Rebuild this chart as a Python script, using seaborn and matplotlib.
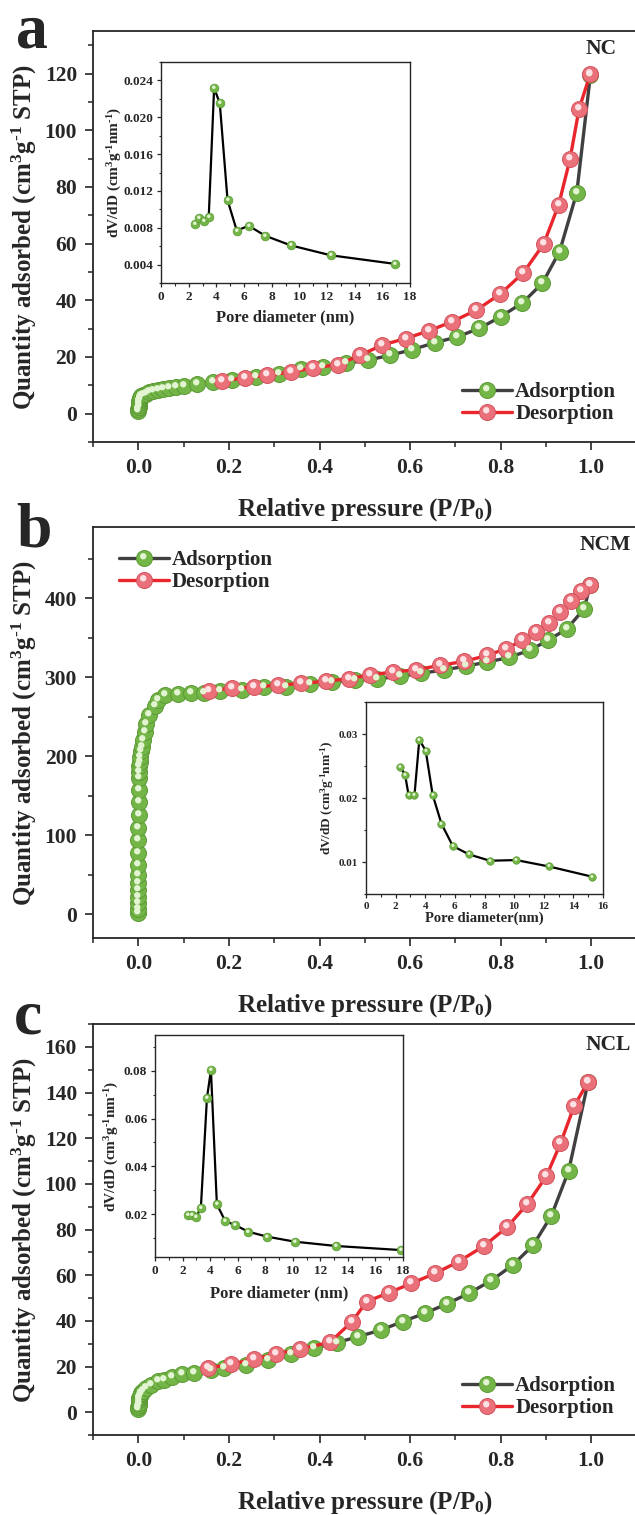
import seaborn as sns
import matplotlib.pyplot as plt
from matplotlib.lines import Line2D
from matplotlib.markers import MarkerStyle
from matplotlib.transforms import Affine2D
from matplotlib.legend_handler import HandlerTuple
from matplotlib.ticker import MultipleLocator, FixedLocator, FormatStrFormatter

# ---- isotherm data ----
nc_ads_p = [0.0001, 0.0003, 0.0006, 0.001, 0.0015, 0.0022, 0.003, 0.0045, 0.0065, 0.01,
            0.016, 0.024, 0.033, 0.043, 0.055, 0.068, 0.083, 0.1, 0.13, 0.165, 0.207,
            0.259, 0.31, 0.359, 0.407, 0.458, 0.507, 0.556, 0.605, 0.654, 0.704, 0.753,
            0.800, 0.848, 0.892, 0.930, 0.968, 0.998]
nc_ads_q = [1.0, 1.6, 2.3, 3.0, 3.7, 4.4, 5.0, 5.6, 6.1, 6.6, 7.1, 7.6, 8.0, 8.3, 8.7,
            9.1, 9.5, 9.9, 10.6, 11.2, 11.8, 13.0, 14.1, 15.6, 16.5, 17.7, 18.9, 20.6,
            22.6, 25.0, 27.1, 30.1, 34.2, 39.1, 46.0, 57.2, 78.0, 119.5]
nc_des_p = [0.998, 0.973, 0.953, 0.928, 0.895, 0.850, 0.799, 0.746, 0.692, 0.641, 0.590,
            0.538, 0.490, 0.440, 0.385, 0.336, 0.285, 0.235, 0.185]
nc_des_q = [120.0, 107.5, 89.8, 73.7, 59.9, 49.7, 42.2, 36.5, 32.4, 29.2, 26.5, 24.2,
            20.6, 17.3, 16.1, 14.7, 13.6, 12.6, 11.6]

ncm_ads_p = [0.00001, 0.00002, 0.00003, 0.00005, 0.00007, 0.0001, 0.00013, 0.00017,
             0.00022, 0.0003, 0.0004, 0.0005, 0.0007, 0.0009, 0.0012, 0.0016, 0.002,
             0.003, 0.004, 0.006, 0.008, 0.011, 0.014, 0.018, 0.023, 0.036, 0.043, 0.06,
             0.087, 0.116, 0.145, 0.18, 0.228, 0.278, 0.327, 0.379, 0.428, 0.479, 0.528,
             0.577, 0.625, 0.674, 0.723, 0.770, 0.818, 0.864, 0.904, 0.946, 0.984, 0.998]
ncm_ads_q = [1, 7, 14, 22, 31, 40, 50, 62, 77, 94, 109, 125, 142, 157, 172, 180, 187,
             193, 199, 206, 212, 220, 231, 241, 252, 264, 271, 277, 279, 280, 280, 282.5,
             284, 287, 288, 291, 294, 296, 298, 301, 305, 309, 314, 319, 325, 334, 346.5,
             361, 386.5, 417]
ncm_des_p = [0.998, 0.977, 0.955, 0.932, 0.906, 0.877, 0.848, 0.812, 0.770, 0.720, 0.667,
             0.614, 0.563, 0.512, 0.465, 0.415, 0.359, 0.308, 0.256, 0.207, 0.157]
ncm_des_q = [417, 409, 397, 382, 368, 357, 346.5, 336, 327.6, 320, 315, 309.5, 306.5,
             303, 298, 295, 292, 290, 287.6, 286, 283]

ncl_ads_p = [0.0001, 0.0003, 0.0006, 0.001, 0.0016, 0.0024, 0.0035, 0.005, 0.007, 0.01,
             0.016, 0.029, 0.043, 0.056, 0.074, 0.096, 0.123, 0.16, 0.19, 0.238, 0.287,
             0.336, 0.388, 0.439, 0.486, 0.536, 0.584, 0.632, 0.681, 0.730, 0.779, 0.827,
             0.872, 0.912, 0.950, 0.993]
ncl_ads_q = [1.2, 2.2, 3.2, 4.2, 5.2, 6.1, 7.0, 7.8, 8.6, 9.2, 10.5, 12.1, 13.6, 14.3,
             15.3, 16.5, 17.1, 18.3, 19.3, 20.7, 22.9, 25.4, 28.0, 30.5, 33.1, 36.0,
             39.7, 43.3, 47.4, 52.1, 57.6, 64.5, 73.2, 86.1, 105.7, 144.7]
ncl_des_p = [0.993, 0.962, 0.932, 0.901, 0.859, 0.814, 0.763, 0.707, 0.655, 0.603, 0.554,
             0.504, 0.472, 0.423, 0.356, 0.305, 0.256, 0.205, 0.154]
ncl_des_q = [144.7, 134.0, 117.7, 103.4, 91.2, 81.0, 72.8, 65.9, 60.8, 56.4, 52.4, 48.4,
             39.7, 30.6, 27.6, 25.5, 23.2, 21.0, 19.3]

# ---- pore size distributions (insets) ----
nc_pore_d = [2.49, 2.78, 3.09, 3.45, 3.84, 4.25, 4.81, 5.48, 6.33, 7.54, 9.37, 12.27, 16.93]
nc_pore_v = [0.00843, 0.00904, 0.00868, 0.00915, 0.0232, 0.0215, 0.0110, 0.00768,
             0.00822, 0.00713, 0.00609, 0.00501, 0.00407]
ncm_pore_d = [2.32, 2.64, 2.88, 3.27, 3.60, 4.03, 4.50, 5.09, 5.86, 6.94, 8.36, 10.14,
              12.36, 15.27]
ncm_pore_v = [0.0249, 0.0236, 0.0204, 0.0204, 0.0291, 0.0274, 0.0205, 0.0160, 0.0125,
              0.0112, 0.0102, 0.0103, 0.0093, 0.0077]
ncl_pore_d = [2.42, 2.71, 3.0, 3.33, 3.77, 4.06, 4.49, 5.10, 5.82, 6.76, 8.16, 10.17,
              13.16, 17.87]
ncl_pore_v = [0.0197, 0.0194, 0.0188, 0.0227, 0.0686, 0.0803, 0.0241, 0.0170, 0.0154,
              0.0126, 0.0105, 0.0084, 0.0066, 0.0049]

sns.set_style('ticks')
plt.rcParams['font.family'] = ['Liberation Serif', 'DejaVu Serif']
plt.rcParams['font.weight'] = 'bold'
plt.rcParams['axes.labelweight'] = 'bold'
plt.rcParams['mathtext.fontset'] = 'custom'
plt.rcParams['mathtext.rm'] = 'Liberation Serif:bold'
plt.rcParams['mathtext.it'] = 'Liberation Serif:bold'
plt.rcParams['mathtext.bf'] = 'Liberation Serif:bold'
plt.rcParams['mathtext.default'] = 'rm'

ADS_LINE = '#404040'
DES_LINE = '#e8262c'
GREEN, GREEN_EDGE, GREEN_HI = '#74b548', '#5b9a35', '#e2f4d2'
RED, RED_EDGE, RED_HI = '#ea707a', '#d4525d', '#fde2e5'
HI = MarkerStyle('o', transform=Affine2D().scale(0.4).translate(-0.08, 0.14))

YLAB = r'Quantity adsorbed (cm$^3$g$^{\text{-1}}$ STP)'
PSD_YLAB = r'dV/dD (cm$^3$g$^{\text{-1}}$nm$^{\text{-1}}$)'

W, H = 635, 1515
fig = plt.figure(figsize=(W / 100, H / 100), dpi=100)


def box(left, top, right, bottom):
    return [left / W, 1 - bottom / H, (right - left) / W, (bottom - top) / H]


def series(ax, x, y, line_c, face, edge, hi, ms, lw):
    sns.lineplot(x=x, y=y, ax=ax, sort=False, estimator=None, color=line_c, lw=lw,
                 marker='o', ms=ms, mfc=face, mec=edge, mew=0.7, legend=False)
    sns.scatterplot(x=x, y=y, ax=ax, marker=HI, s=ms ** 2, color=hi, linewidth=0,
                    legend=False, zorder=3)


def main_panel(top, ads, des, ylim, ymaj, ymin, tag, tag_xy, letter, letter_xy,
               leg_xy, ylab_y):
    ax = fig.add_axes(box(93, top, 93 + 543.6, top + 411))
    series(ax, ads[0], ads[1], ADS_LINE, GREEN, GREEN_EDGE, GREEN_HI, 11.5, 2.4)
    series(ax, des[0], des[1], DES_LINE, RED, RED_EDGE, RED_HI, 11.5, 2.4)
    ax.set_xlim(-0.1, 1.1)
    ax.set_ylim(*ylim)
    ax.xaxis.set_major_locator(FixedLocator([0, 0.2, 0.4, 0.6, 0.8, 1.0]))
    ax.xaxis.set_major_formatter(FormatStrFormatter('%.1f'))
    ax.xaxis.set_minor_locator(MultipleLocator(0.1))
    ax.yaxis.set_major_locator(MultipleLocator(ymaj))
    ax.yaxis.set_minor_locator(MultipleLocator(ymin))
    ax.tick_params(which='major', length=6, width=1.2, pad=5.5, labelsize=15.5)
    ax.tick_params(which='minor', length=3.5, width=1.1)
    for s in ax.spines.values():
        s.set_linewidth(1.3)
    ax.set_xlabel('Relative pressure (P/P$_0$)', fontsize=18)
    ax.xaxis.set_label_coords(0.5, -0.132)
    ax.set_ylabel(YLAB, fontsize=18)
    ax.yaxis.set_label_coords(-0.1, ylab_y)

    h_ads = (Line2D([], [], color=ADS_LINE, lw=2.4, marker='o', ms=11.5, mfc=GREEN,
                    mec=GREEN_EDGE, mew=0.7),
             Line2D([], [], ls='none', marker=HI, ms=11.5, mfc=GREEN_HI, mec='none'))
    h_des = (Line2D([], [], color=DES_LINE, lw=2.4, marker='o', ms=11.5, mfc=RED,
                    mec=RED_EDGE, mew=0.7),
             Line2D([], [], ls='none', marker=HI, ms=11.5, mfc=RED_HI, mec='none'))
    ax.legend([h_ads, h_des], ['Adsorption', 'Desorption'],
              handler_map={tuple: HandlerTuple(ndivide=1)}, loc='center left',
              bbox_to_anchor=(leg_xy[0] / W, 1 - leg_xy[1] / H),
              bbox_transform=fig.transFigure, frameon=False, borderpad=0,
              borderaxespad=0, handlelength=2.4, handletextpad=0.15,
              labelspacing=0.1, prop={'size': 15, 'weight': 'bold'})

    fig.text(tag_xy[0] / W, 1 - tag_xy[1] / H, tag, ha='center', va='center',
             fontsize=15.5, fontweight='bold')
    fig.text(letter_xy[0] / W, 1 - letter_xy[1] / H, letter, ha='left',
             va='baseline', fontsize=46, fontweight='bold')
    return ax


def inset(rect, d, v, xlim, ylim, ymaj, ymin, yfmt, xlab, ms, tsize, lsize,
          ylab_x, xlab_y):
    ax = fig.add_axes(box(*rect))
    ax.set_facecolor('white')
    sns.lineplot(x=d, y=v, ax=ax, sort=False, estimator=None, color='black', lw=1.6,
                 marker='o', ms=ms, mfc=GREEN, mec=GREEN_EDGE, mew=0.5, legend=False)
    sns.scatterplot(x=d, y=v, ax=ax, marker=HI, s=ms ** 2, color=GREEN_HI,
                    linewidth=0, legend=False, zorder=3)
    ax.set_xlim(*xlim)
    ax.set_ylim(*ylim)
    ax.xaxis.set_major_locator(MultipleLocator(2))
    ax.xaxis.set_minor_locator(MultipleLocator(1))
    ax.yaxis.set_major_locator(ymaj)
    ax.yaxis.set_minor_locator(MultipleLocator(ymin))
    ax.yaxis.set_major_formatter(FormatStrFormatter(yfmt))
    ax.tick_params(which='major', length=3, width=0.9, pad=2.5, labelsize=tsize)
    ax.tick_params(which='minor', length=1.8, width=0.8)
    for s in ax.spines.values():
        s.set_linewidth(1.0)
    ax.set_xlabel(xlab, fontsize=lsize)
    ax.xaxis.set_label_coords(0.5, xlab_y)
    ax.set_ylabel(PSD_YLAB, fontsize=lsize - 1)
    ax.yaxis.set_label_coords(ylab_x, 0.5)
    return ax


main_panel(31, (nc_ads_p, nc_ads_q), (nc_des_p, nc_des_q), (-10, 135), 20, 10,
           'NC', (601, 49), 'a', (16, 47), (462, 403), 0.5)
main_panel(527, (ncm_ads_p, ncm_ads_q), (ncm_des_p, ncm_des_q), (-30, 490), 100, 50,
           'NCM', (605, 545), 'b', (16, 547), (119, 571), 0.5)
main_panel(1024, (ncl_ads_p, ncl_ads_q), (ncl_des_p, ncl_des_q), (-10, 170), 20, 10,
           'NCL', (608, 1045), 'c', (14, 1033), (462, 1397), 0.5)

inset((161, 62, 410, 283), nc_pore_d, nc_pore_v, (0, 18), (0.002, 0.026),
      MultipleLocator(0.004), 0.002, '%.3f', 'Pore diameter (nm)', 6.3, 9.5, 12,
      -0.15, -0.12)
inset((366, 702, 603, 894), ncm_pore_d, ncm_pore_v, (0, 16), (0.005, 0.035),
      FixedLocator([0.01, 0.02, 0.03]), 0.005, '%.2f', 'Pore diameter(nm)', 5.4, 8, 10.5,
      -0.125, -0.09)
inset((155, 1035, 403, 1257), ncl_pore_d, ncl_pore_v, (0, 18), (0.002, 0.095),
      FixedLocator([0.02, 0.04, 0.06, 0.08]), 0.01, '%.2f', 'Pore diameter (nm)', 6.3,
      9.5, 12, -0.137, -0.13)

fig.savefig('out.png', dpi=100)
